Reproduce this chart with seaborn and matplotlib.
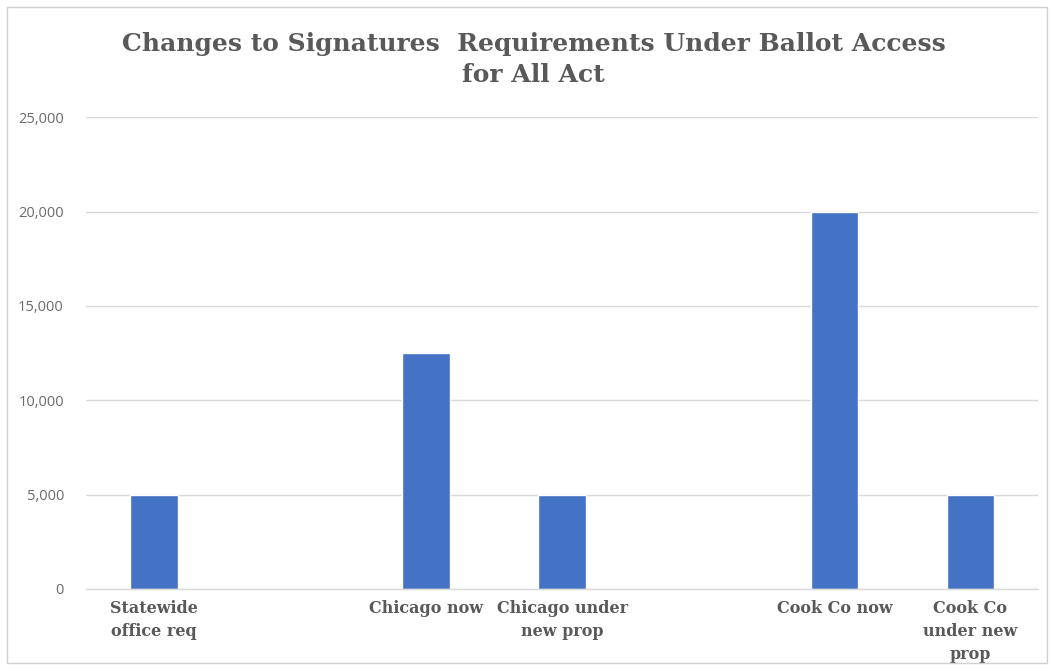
import seaborn as sns
import pandas as pd
import matplotlib.pyplot as plt
import numpy as np
from matplotlib.patches import Rectangle
from matplotlib.ticker import FuncFormatter

#-----------------------------------------------------------------------------------------------------------------------
"""Data"""
# Blank slots keep the gaps between the groups
categories = ["Statewide\noffice req", " ", "Chicago now", "Chicago under\nnew prop", "  ",
              "Cook Co now", "Cook Co\nunder new\nprop"]
signatures = [5000, np.nan, 12500, 5000, np.nan, 20000, 5000]
y_ticks = [0, 5000, 10000, 15000, 20000, 25000]

df = pd.DataFrame({"category": categories, "signatures": signatures})

#-----------------------------------------------------------------------------------------------------------------------
"""Styling variables"""
TitleFont = 'DejaVu Serif'
BarColour = '#4472C4'
TextGrey = '#595959'
GridGrey = '#D9D9D9'

sns.set_style("white")

#-----------------------------------------------------------------------------------------------------------------------
"""Creating the Figure"""
fig = plt.figure(figsize=(10.5, 6.7), dpi=100)
ax1 = fig.add_axes([0.082, 0.121, 0.907, 0.704])

sns.barplot(data=df, x="category", y="signatures", order=categories, color=BarColour,
            width=0.35, saturation=1, ax=ax1)

#-----------------------------------------------------------------------------------------------------------------------
"""Making the graph look nice"""
ax1.set_ylim(0, 25000)
ax1.set_yticks(y_ticks)
ax1.yaxis.set_major_formatter(FuncFormatter(lambda v, p: f"{int(v):,}"))
ax1.set_xlim(-0.5, len(categories) - 0.5)

ax1.grid(True, axis='y', color=GridGrey, linewidth=1)
ax1.set_axisbelow(True)
for s in ['top', 'right', 'left']:
    ax1.spines[s].set_visible(False)
ax1.spines['bottom'].set_color(GridGrey)
ax1.spines['bottom'].set_linewidth(1)

ax1.tick_params(axis='y', length=0, pad=16, labelsize=10.5, labelcolor='#6b6b6b')
ax1.tick_params(axis='x', length=0, pad=8, labelcolor=TextGrey)
for label in ax1.get_yticklabels():
    label.set_fontfamily('Open Sans')
for label in ax1.get_xticklabels():
    label.set_fontfamily(TitleFont)
    label.set_fontweight('bold')
    label.set_fontsize(11.5)
    label.set_verticalalignment('top')
    label.set_linespacing(1.45)

ax1.set_xlabel("")
ax1.set_ylabel("")

#-----------------------------------------------------------------------------------------------------------------------
"""Title and border"""
fig.text(0.508, 0.911, "Changes to Signatures  Requirements Under Ballot Access\nfor All Act",
         ha='center', va='center', fontfamily=TitleFont, fontweight='bold', fontsize=18,
         color=TextGrey, linespacing=1.35)

fig.patches.append(Rectangle((0.007, 0.01), 0.99, 0.98, transform=fig.transFigure,
                             fill=False, edgecolor='#D0D0D0', linewidth=1))

#-----------------------------------------------------------------------------------------------------------------------
"""Saving"""
fig.savefig("out.png", dpi=100, facecolor='white')
